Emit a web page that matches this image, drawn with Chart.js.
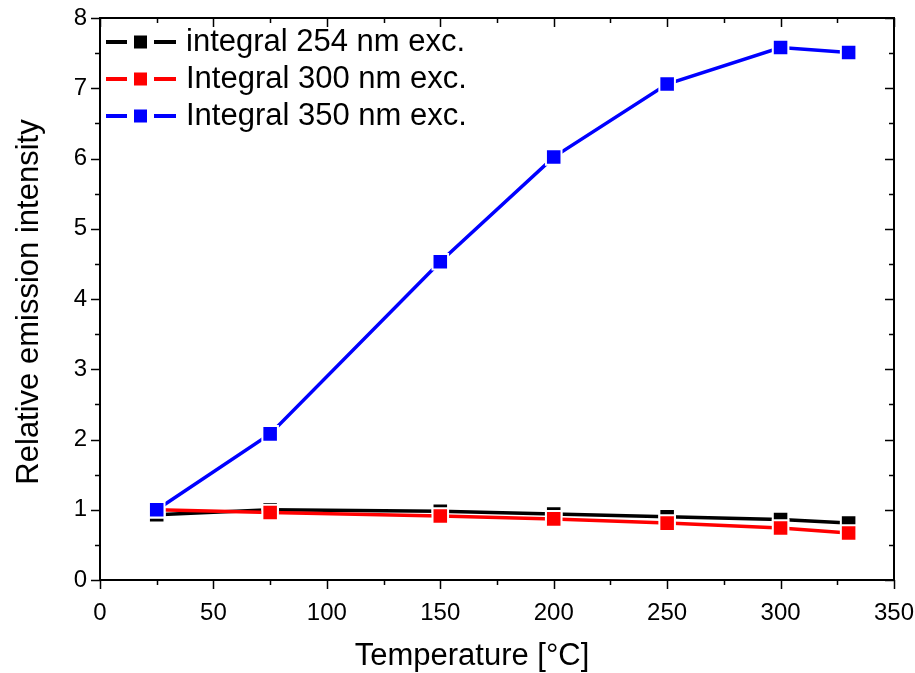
<!DOCTYPE html>
<html>
<head>
<meta charset="utf-8">
<script src="https://cdn.jsdelivr.net/npm/chart.js@4/dist/chart.umd.min.js"></script>
<style>
  html, body { margin: 0; padding: 0; background: #fff; }
  #wrap { width: 915px; height: 673px; }
</style>
</head>
<body>
<div id="wrap"><canvas id="emChart" width="915" height="673"></canvas></div>
<script>
// data
const temps = [25, 75, 150, 200, 250, 300, 330];
const exc254 = [0.93, 1.00, 0.98, 0.94, 0.90, 0.86, 0.81];
const exc300 = [1.00, 0.96, 0.91, 0.87, 0.81, 0.74, 0.67];
const exc350 = [1.00, 2.08, 4.53, 6.02, 7.06, 7.58, 7.51];
const seriesNames = ["integral 254 nm exc.", "Integral 300 nm exc.", "Integral 350 nm exc."];
const seriesColors = ["#000000", "#ff0000", "#0000ff"];
const xTicks = [0, 50, 100, 150, 200, 250, 300, 350];
const yTicks = [0, 1, 2, 3, 4, 5, 6, 7, 8];
const xTitle = "Temperature [°C]";
const yTitle = "Relative emission intensity";

const FONT = "'Liberation Sans', Arial, sans-serif";

function toPoints(ys) {
  return temps.map((t, i) => ({ x: t, y: ys[i] }));
}

function makeSet(i, ys, order) {
  return {
    label: seriesNames[i],
    data: toPoints(ys),
    borderColor: seriesColors[i],
    backgroundColor: seriesColors[i],
    borderWidth: 3.5,
    pointStyle: "rect",
    pointRadius: 11,
    pointBorderColor: "#ffffff",
    pointBorderWidth: 2,
    pointBackgroundColor: seriesColors[i],
    tension: 0,
    order: order
  };
}

// ticks (major + minor) on all four sides, frame and axis titles
const frameTicks = {
  id: "frameTicks",
  afterDraw(chart) {
    const ctx = chart.ctx;
    const a = chart.chartArea;
    const xs = chart.scales.x, ys = chart.scales.y;
    ctx.save();
    ctx.strokeStyle = "#000";
    ctx.lineWidth = 2;
    ctx.strokeRect(a.left, a.top, a.right - a.left, a.bottom - a.top);
    ctx.lineWidth = 1.5;
    ctx.beginPath();
    for (let v = 0; v <= 350; v += 25) {
      const px = Math.round(xs.getPixelForValue(v)) + 0.5;
      const major = v % 50 === 0;
      ctx.moveTo(px, a.bottom); ctx.lineTo(px, a.bottom + (major ? 9 : 5));
      ctx.moveTo(px, a.top); ctx.lineTo(px, a.top + (major ? 9 : 5));
    }
    for (let v = 0; v <= 8; v += 0.5) {
      const py = Math.round(ys.getPixelForValue(v)) + 0.5;
      const major = v % 1 === 0;
      ctx.moveTo(a.left, py); ctx.lineTo(a.left - (major ? 9 : 5), py);
      ctx.moveTo(a.right, py); ctx.lineTo(a.right - (major ? 9 : 5), py);
    }
    ctx.stroke();

    ctx.fillStyle = "#000";
    ctx.font = "31px " + FONT;
    ctx.textAlign = "center";
    ctx.textBaseline = "alphabetic";
    ctx.fillText(xTitle, 472, 665);
    ctx.translate(29, 302);
    ctx.rotate(-Math.PI / 2);
    ctx.textBaseline = "middle";
    ctx.fillText(yTitle, 0, 0);
    ctx.restore();
  }
};

// legend: line - marker - line, no box
const lineLegend = {
  id: "lineLegend",
  afterDraw(chart) {
    const ctx = chart.ctx;
    const a = chart.chartArea;
    ctx.save();
    ctx.font = "31px " + FONT;
    ctx.textBaseline = "middle";
    ctx.textAlign = "left";
    chart.data.datasets.slice().sort((p, q) => seriesNames.indexOf(p.label) - seriesNames.indexOf(q.label)).forEach((ds, i) => {
      const y = a.top + 24 + i * 37;
      const x0 = a.left + 6;
      ctx.strokeStyle = ds.borderColor;
      ctx.lineWidth = 4;
      ctx.beginPath();
      ctx.moveTo(x0, y); ctx.lineTo(x0 + 21, y);
      ctx.moveTo(x0 + 48, y); ctx.lineTo(x0 + 70, y);
      ctx.stroke();
      ctx.fillStyle = ds.borderColor;
      ctx.fillRect(x0 + 28, y - 6.5, 13, 13);
      ctx.fillStyle = "#000";
      ctx.fillText(ds.label, x0 + 80, y);
    });
    ctx.restore();
  }
};

new Chart(document.getElementById("emChart").getContext("2d"), {
  type: "line",
  data: {
    datasets: [
      makeSet(0, exc254, 2),
      makeSet(1, exc300, 1),
      makeSet(2, exc350, 0)
    ]
  },
  options: {
    responsive: false,
    animation: false,
    layout: { padding: { top: 18, right: 21, left: 0, bottom: 0 } },
    plugins: {
      legend: { display: false },
      tooltip: { enabled: false }
    },
    scales: {
      x: {
        type: "linear",
        min: 0,
        max: 350,
        afterBuildTicks: s => { s.ticks = xTicks.map(v => ({ value: v })); },
        afterFit: s => { s.height = 93; s.paddingLeft = 0; s.paddingRight = 0; },
        grid: { display: false, drawTicks: false },
        border: { display: false },
        ticks: { color: "#000", padding: 19, font: { family: FONT, size: 24 }, maxRotation: 0 },
        title: { display: false }
      },
      y: {
        type: "linear",
        min: 0,
        max: 8,
        afterBuildTicks: s => { s.ticks = yTicks.map(v => ({ value: v })); },
        afterFit: s => { s.width = 100; s.paddingTop = 0; s.paddingBottom = 0; },
        grid: { display: false, drawTicks: false },
        border: { display: false },
        ticks: { color: "#000", padding: 13, font: { family: FONT, size: 24 } },
        title: { display: false }
      }
    }
  },
  plugins: [frameTicks, lineLegend]
});
</script>
</body>
</html>
